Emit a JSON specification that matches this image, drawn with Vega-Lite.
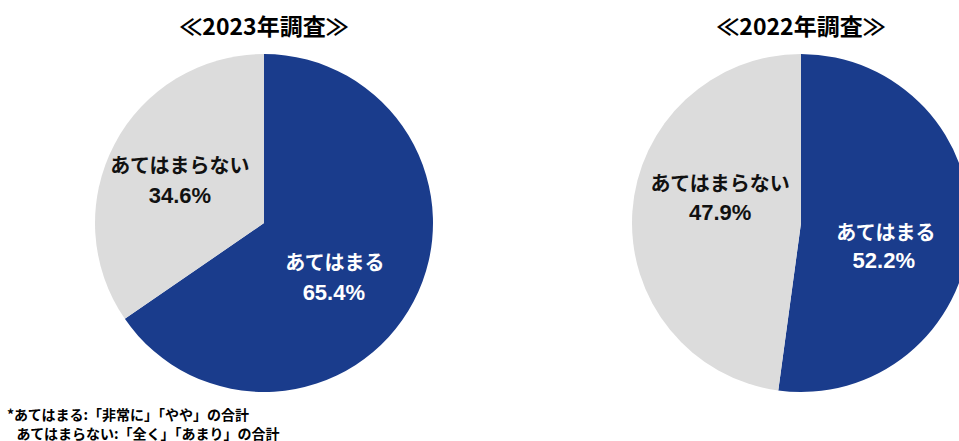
{
  "$schema": "https://vega.github.io/schema/vega-lite/v6.json",
  "background": "white",
  "padding": {"left": 7, "top": 17, "right": 0, "bottom": 0},
  "datasets": {
    "y2023": [
      {"cat": "あてはまる", "value": 65.4, "pct": "65.4%"},
      {"cat": "あてはまらない", "value": 34.6, "pct": "34.6%"}
    ],
    "y2022": [
      {"cat": "あてはまる", "value": 52.2, "pct": "52.2%"},
      {"cat": "あてはまらない", "value": 47.9, "pct": "47.9%"}
    ]
  },
  "title": {
    "text": ["*あてはまる:「非常に」「やや」の合計", "\u200b\u00a0\u00a0\u00a0あてはまらない:「全く」「あまり」の合計"],
    "orient": "bottom",
    "anchor": "start",
    "frame": "bounds",
    "dx": -88,
    "offset": 17,
    "fontSize": 14,
    "font": "Noto Sans CJK JP",
    "fontWeight": "bold",
    "lineHeight": 19,
    "color": "black"
  },
  "spacing": 199,
  "hconcat": [
    {
      "width": 338,
      "height": 338,
      "title": {"text": "≪2023年調査≫", "fontSize": 23, "fontWeight": "bold", "font": "Noto Sans CJK JP", "offset": 14, "color": "black"},
      "data": {"name": "y2023"},
      "encoding": {
        "theta": {"field": "value", "type": "quantitative", "stack": true},
        "order": {"field": "value", "type": "quantitative", "sort": "descending"}
      },
      "layer": [
        {
          "mark": {"type": "arc", "outerRadius": 169},
          "encoding": {
            "color": {"field": "cat", "type": "nominal", "scale": {"domain": ["あてはまる", "あてはまらない"], "range": ["#1A3C8C", "#DCDCDC"]}, "legend": null}
          }
        },
        {
          "mark": {"type": "text", "radius": 80, "dy": 4, "fontSize": 20, "fontWeight": "bold", "font": "Noto Sans CJK JP", "color": "white"},
          "encoding": {"text": {"condition": {"test": "datum.cat === 'あてはまる'", "field": "cat"}, "value": ""}}
        },
        {
          "mark": {"type": "text", "radius": 80, "dy": 33, "dx": -1, "fontSize": 22, "fontWeight": "bold", "font": "Liberation Sans", "color": "white"},
          "encoding": {"text": {"condition": {"test": "datum.cat === 'あてはまる'", "field": "pct"}, "value": ""}}
        },
        {
          "mark": {"type": "text", "radius": 95, "dy": -12, "fontSize": 20, "fontWeight": "bold", "font": "Noto Sans CJK JP", "color": "#111111"},
          "encoding": {"text": {"condition": {"test": "datum.cat === 'あてはまらない'", "field": "cat"}, "value": ""}}
        },
        {
          "mark": {"type": "text", "radius": 95, "dy": 17, "fontSize": 22, "fontWeight": "bold", "font": "Liberation Sans", "color": "#111111"},
          "encoding": {"text": {"condition": {"test": "datum.cat === 'あてはまらない'", "field": "pct"}, "value": ""}}
        }
      ]
    },
    {
      "width": 338,
      "height": 338,
      "title": {"text": "≪2022年調査≫", "fontSize": 23, "fontWeight": "bold", "font": "Noto Sans CJK JP", "offset": 14, "color": "black"},
      "data": {"name": "y2022"},
      "encoding": {
        "theta": {"field": "value", "type": "quantitative", "stack": true},
        "order": {"field": "value", "type": "quantitative", "sort": "descending"}
      },
      "layer": [
        {
          "mark": {"type": "arc", "outerRadius": 169},
          "encoding": {
            "color": {"field": "cat", "type": "nominal", "scale": {"domain": ["あてはまる", "あてはまらない"], "range": ["#1A3C8C", "#DCDCDC"]}, "legend": null}
          }
        },
        {
          "mark": {"type": "text", "radius": 85, "dy": 5, "fontSize": 20, "fontWeight": "bold", "font": "Noto Sans CJK JP", "color": "white"},
          "encoding": {"text": {"condition": {"test": "datum.cat === 'あてはまる'", "field": "cat"}, "value": ""}}
        },
        {
          "mark": {"type": "text", "radius": 85, "dy": 32, "dx": -2, "fontSize": 22, "fontWeight": "bold", "font": "Liberation Sans", "color": "white"},
          "encoding": {"text": {"condition": {"test": "datum.cat === 'あてはまる'", "field": "pct"}, "value": ""}}
        },
        {
          "mark": {"type": "text", "radius": 81, "dy": -33, "fontSize": 20, "fontWeight": "bold", "font": "Noto Sans CJK JP", "color": "#111111"},
          "encoding": {"text": {"condition": {"test": "datum.cat === 'あてはまらない'", "field": "cat"}, "value": ""}}
        },
        {
          "mark": {"type": "text", "radius": 81, "dy": -5, "fontSize": 22, "fontWeight": "bold", "font": "Liberation Sans", "color": "#111111"},
          "encoding": {"text": {"condition": {"test": "datum.cat === 'あてはまらない'", "field": "pct"}, "value": ""}}
        }
      ]
    }
  ],
  "config": {"view": {"stroke": null}}
}
